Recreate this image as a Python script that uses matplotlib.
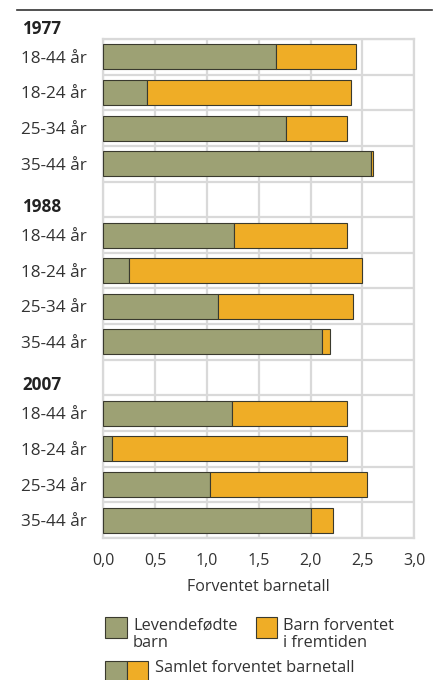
import matplotlib.pyplot as plt
from matplotlib.patches import Rectangle
from matplotlib.lines import Line2D
from matplotlib.transforms import blended_transform_factory
import numpy as np

plt.rcParams['font.family'] = ['Open Sans', 'DejaVu Sans']

years = ["1977", "1988", "2007"]
age_groups = ["18-44 år", "18-24 år", "25-34 år", "35-44 år"]
# levendefødte barn (born) and samlet forventet barnetall (total)
born = {
    "1977": [1.67, 0.42, 1.76, 2.58],
    "1988": [1.26, 0.25, 1.11, 2.11],
    "2007": [1.24, 0.08, 1.03, 2.00],
}
total = {
    "1977": [2.44, 2.39, 2.35, 2.60],
    "1988": [2.35, 2.50, 2.41, 2.19],
    "2007": [2.35, 2.35, 2.54, 2.22],
}
xticks = [0.0, 0.5, 1.0, 1.5, 2.0, 2.5, 3.0]
xlabel = "Forventet barnetall"
legend_labels = ["Levendefødte\nbarn", "Barn forventet\ni fremtiden", "Samlet forventet barnetall"]

green = "#9da174"
orange = "#efad26"
edge = "#3a3a2e"
gridc = "#d9d9d9"

W, H = 441, 680
fig = plt.figure(figsize=(W / 100, H / 100), dpi=100)
ax = fig.add_axes([103.3 / W, 1 - 538 / H, 311 / W, 499 / H])

# row positions: 4 rows per year, one blank row between years
ypos = []
labels = []
for i, yr in enumerate(years):
    rows = np.arange(4) + i * 5
    b = np.array(born[yr])
    t = np.array(total[yr])
    ax.barh(rows, b, height=0.7, color=green, edgecolor=edge, linewidth=0.8, zorder=3)
    ax.barh(rows, t - b, left=b, height=0.7, color=orange, edgecolor=edge, linewidth=0.8, zorder=3)
    ypos.extend(rows)
    labels.extend(age_groups)

ax.set_xlim(0, 3.0)
ax.set_ylim(13.5, -0.5)
ax.set_xticks(xticks)
ax.set_xticklabels([f"{v:.1f}".replace(".", ",") for v in xticks], fontsize=11.5, color="#333333")
ax.set_yticks(ypos)
ax.set_yticklabels(labels, fontsize=12.3, color="#333333", ha="left")
ax.set_yticks(np.arange(-0.5, 14, 1), minor=True)
ax.tick_params(axis="y", which="both", length=0, pad=59)
ax.tick_params(axis="x", length=0, pad=11)
ax.grid(True, axis="x", color=gridc, linewidth=1.6, zorder=0)
ax.grid(True, axis="y", which="minor", color=gridc, linewidth=1.6, zorder=0)
for s in ax.spines.values():
    s.set_color(gridc)
    s.set_linewidth(1.6)
ax.set_xlabel(xlabel, fontsize=11.5, color="#333333", labelpad=7)

# year headings
tr = blended_transform_factory(fig.transFigure, ax.transData)
for i, yr in enumerate(years):
    ax.text(22 / W, i * 5 - 0.79, yr, transform=tr, fontsize=12.3, fontweight="bold",
            color="#222222", ha="left", va="center", clip_on=False)

# top rule
fig.add_artist(Line2D([17 / W, 432 / W], [1 - 9.5 / H, 1 - 9.5 / H], color="#333333", linewidth=1.2))

# legend
def fx(px):
    return px / W

def fy(py):
    return 1 - py / H

fig.add_artist(Rectangle((fx(105), fy(638)), 22 / W, 21 / H, facecolor=green, edgecolor=edge, linewidth=0.8))
fig.text(fx(133), fy(618), legend_labels[0], fontsize=11.8, color="#333333", ha="left", va="top", linespacing=1.1)
fig.add_artist(Rectangle((fx(256), fy(638)), 21 / W, 21 / H, facecolor=orange, edgecolor=edge, linewidth=0.8))
fig.text(fx(283), fy(618), legend_labels[1], fontsize=11.8, color="#333333", ha="left", va="top", linespacing=1.1)
fig.add_artist(Rectangle((fx(105), fy(683)), 22 / W, 22 / H, facecolor=green, edgecolor=edge, linewidth=0.8))
fig.add_artist(Rectangle((fx(127), fy(683)), 21 / W, 22 / H, facecolor=orange, edgecolor=edge, linewidth=0.8))
fig.text(fx(155), fy(660), legend_labels[2], fontsize=11.8, color="#333333", ha="left", va="top")

fig.savefig("out.png", dpi=100)
